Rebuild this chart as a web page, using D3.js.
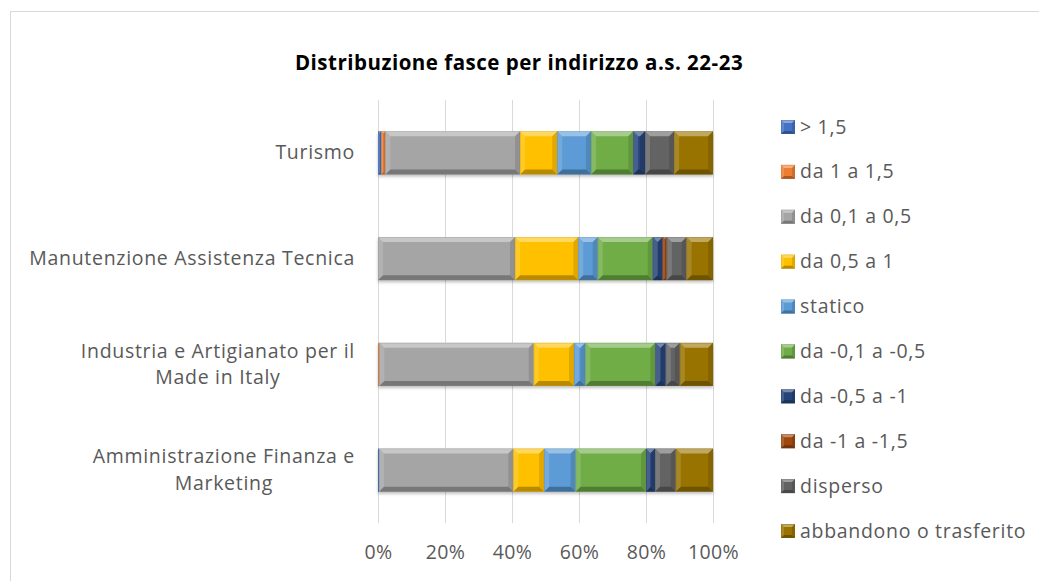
<!DOCTYPE html>
<html>
<head>
<meta charset="utf-8">
<script src="https://cdn.jsdelivr.net/npm/d3@7"></script>
<style>
  html, body { margin: 0; padding: 0; background: #fff; }
  svg { display: block; font-family: "Open Sans", Lato, sans-serif; }
</style>
</head>
<body>
<div id="chart"></div>
<script>
//----------------------------------------------------------
// data

var categories = [
    ["Turismo"],
    ["Manutenzione Assistenza Tecnica"],
    ["Industria e Artigianato per il", "Made in Italy"],
    ["Amministrazione Finanza e", "Marketing"]
];

var seriesNames = [
    "> 1,5", "da 1 a 1,5", "da 0,1 a 0,5", "da 0,5 a 1", "statico",
    "da -0,1 a -0,5", "da -0,5 a -1", "da -1 a -1,5", "disperso",
    "abbandono o trasferito"
];

// one value per category, in the order above (percent)
var gt15      = [1.0, 0.0, 0.0, 0.3];
var da1to15   = [1.2, 0.0, 0.4, 0.0];
var da01to05  = [40.2, 40.9, 46.1, 40.1];
var da05to1   = [11.1, 18.9, 12.0, 9.2];
var statico   = [10.1, 5.8, 3.4, 9.4];
var neg01to05 = [12.6, 16.4, 20.9, 21.0];
var neg05to1  = [3.5, 3.0, 3.1, 2.7];
var neg1to15  = [0.0, 1.2, 0.0, 0.0];
var disperso  = [8.7, 5.9, 4.2, 6.2];
var abbandono = [11.6, 7.9, 9.9, 11.1];

var tickValues = [0, 0.2, 0.4, 0.6, 0.8, 1];

var seriesColours = [
    "#4472C4", "#ED7D31", "#A5A5A5", "#FFC000", "#5B9BD5",
    "#70AD47", "#264478", "#9E480E", "#636363", "#997300"
];

//----------------------------------------------------------
var W = 1039, H = 581;
var FONT_SIZE = 19.5;
var SPACING = 0.7;

var g_svg = d3.select("#chart")
  .append("svg")
    .attr("width", W)
    .attr("height", H);

// chart border
g_svg.append("rect")
    .attr("x", 10.5).attr("y", 11.5)
    .attr("width", W + 10).attr("height", H + 10)
    .attr("fill", "#fff")
    .attr("stroke", "#d9d9d9");

g_svg.append("text")
    .attr("x", 519).attr("y", 70)
    .attr("text-anchor", "middle")
    .attr("font-size", 20.5)
    .attr("letter-spacing", 0.5)
    .attr("font-weight", "bold")
    .attr("fill", "#000")
    .text("Distribuzione fasce per indirizzo a.s. 22-23");

var defs = g_svg.append("defs");
defs.append("filter")
    .attr("id", "shadow")
    .attr("x", "-5%").attr("y", "-20%")
    .attr("width", "110%").attr("height", "150%")
  .append("feDropShadow")
    .attr("dx", 0).attr("dy", 2)
    .attr("stdDeviation", 1.5)
    .attr("flood-color", "#000")
    .attr("flood-opacity", 0.25);

//----------------------------------------------------------
var x = d3.scaleLinear().domain([0, 1]).range([378, 713]);
var y = d3.scaleBand()
    .domain(d3.range(categories.length))
    .range([100, 523])
    .paddingInner(0.593)
    .paddingOuter(0.2965);

var colour = d3.scaleOrdinal().domain(seriesNames).range(seriesColours);

var seriesValues = [gt15, da1to15, da01to05, da05to1, statico,
                    neg01to05, neg05to1, neg1to15, disperso, abbandono];

var rows = categories.map(function (c, i) {
    var row = { index: i };
    seriesNames.forEach(function (s, k) {
        row[s] = seriesValues[k][i];
    });
    return row;
});

var stacked = d3.stack()
    .keys(seriesNames)
    .offset(d3.stackOffsetExpand)(rows);

// gridlines
g_svg.append("g")
  .selectAll("line")
  .data(tickValues)
  .join("line")
    .attr("x1", function (d) { return Math.round(x(d)) + 0.5; })
    .attr("x2", function (d) { return Math.round(x(d)) + 0.5; })
    .attr("y1", 100).attr("y2", 523)
    .attr("stroke", "#d9d9d9");

// x axis labels
var xAxis = g_svg.append("g")
    .attr("transform", "translate(0,540)")
    .call(d3.axisBottom(x)
        .tickValues(tickValues)
        .tickSize(0)
        .tickPadding(0)
        .tickFormat(d3.format(".0%")));
xAxis.select(".domain").remove();
xAxis.selectAll("text")
    .attr("font-family", "'Open Sans', sans-serif")
    .attr("font-size", FONT_SIZE)
    .attr("letter-spacing", 0.3)
    .attr("fill", "#595959")
    .attr("dy", "0.95em");

// category labels
g_svg.append("g")
  .selectAll("text")
  .data(categories)
  .join("text")
    .attr("text-anchor", "middle")
    .attr("font-size", FONT_SIZE)
    .attr("letter-spacing", SPACING)
    .attr("fill", "#595959")
    .each(function (lines, i) {
        var t = d3.select(this);
        var cy = y(i) + y.bandwidth() / 2;
        var lh = 26.5;
        var y0 = cy - (lines.length - 1) * lh / 2 + 6.5;
        t.selectAll("tspan")
          .data(lines)
          .join("tspan")
            .attr("y", function (d, k) { return y0 + k * lh; })
            .text(function (d) { return d; });
        // right-align the whole block at x=355
        var wmax = 0;
        t.selectAll("tspan").each(function () {
            wmax = Math.max(wmax, this.getComputedTextLength());
        });
        t.selectAll("tspan").attr("x", 355 - wmax / 2);
    });

//----------------------------------------------------------
// bevelled box
function Bevel(g, x0, y0, w, h, fill, b) {
    b = Math.min(b, w / 2, h / 2);
    var x1 = x0 + w, y1 = y0 + h;
    g.append("rect")
        .attr("x", x0).attr("y", y0)
        .attr("width", w).attr("height", h)
        .attr("fill", fill);
    if (w < 1) return;
    var faces = [
        [[x0, y0], [x1, y0], [x1 - b, y0 + b], [x0 + b, y0 + b], "#fff", 0.38],
        [[x0, y0], [x0 + b, y0 + b], [x0 + b, y1 - b], [x0, y1], "#fff", 0.15],
        [[x1, y0], [x1, y1], [x1 - b, y1 - b], [x1 - b, y0 + b], "#000", 0.12],
        [[x0, y1], [x0 + b, y1 - b], [x1 - b, y1 - b], [x1, y1], "#000", 0.28]
    ];
    faces.forEach(function (f) {
        g.append("polygon")
            .attr("points", f.slice(0, 4).map(function (p) { return p.join(","); }).join(" "))
            .attr("fill", f[4])
            .attr("fill-opacity", f[5]);
    });
    g.append("rect")
        .attr("x", x0 + 0.25).attr("y", y0 + 0.25)
        .attr("width", Math.max(0, w - 0.5)).attr("height", h - 0.5)
        .attr("fill", "none")
        .attr("stroke", d3.color(fill).darker(0.6))
        .attr("stroke-opacity", 0.6)
        .attr("stroke-width", 0.5);
}

var bars = g_svg.append("g");

categories.forEach(function (c, i) {
    var gb = bars.append("g").attr("filter", "url(#shadow)");
    stacked.forEach(function (layer) {
        var d = layer[i];
        var w = x(d[1]) - x(d[0]);
        if (w <= 0) return;
        Bevel(gb, x(d[0]), y(i), w, y.bandwidth(), colour(layer.key), 5);
    });
});

//----------------------------------------------------------
// legend
var legendY = d3.scalePoint()
    .domain(seriesNames)
    .range([127, 531]);

var legend = g_svg.append("g")
  .selectAll("g")
  .data(seriesNames)
  .join("g")
    .attr("transform", function (d) { return "translate(781," + legendY(d) + ")"; });

legend.each(function (d) {
    Bevel(d3.select(this), 0, -7, 14, 14, colour(d), 3);
});

legend.append("text")
    .attr("x", 19)
    .attr("y", 6.5)
    .attr("font-size", FONT_SIZE)
    .attr("letter-spacing", SPACING)
    .attr("fill", "#595959")
    .text(function (d) { return d; });
</script>
</body>
</html>
